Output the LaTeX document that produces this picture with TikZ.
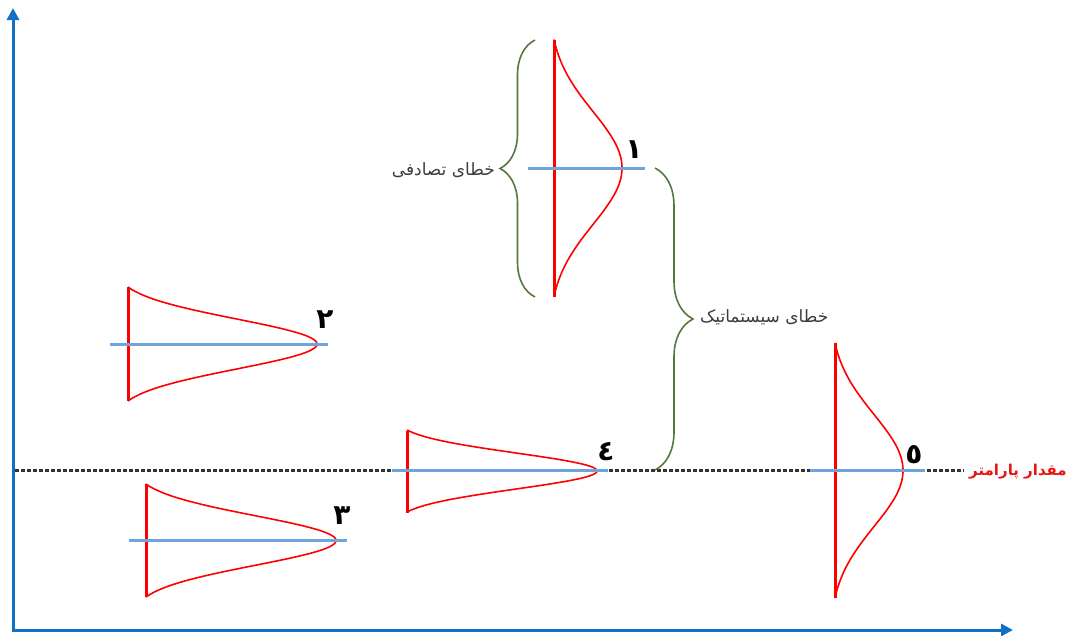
\documentclass[tikz,border=0pt]{standalone}
\usepackage{fontspec}
\usetikzlibrary{arrows.meta,decorations.pathreplacing}
\newfontfamily\farsi[Script=Arabic]{DejaVu Sans}
\TeXXeTstate=1
\definecolor{axisblue}{RGB}{16,112,200}
\definecolor{meanblue}{RGB}{110,165,220}
\definecolor{bracegreen}{RGB}{84,120,60}
\definecolor{labelgray}{RGB}{60,60,60}
\definecolor{pred}{RGB}{235,20,20}
\tikzset{
  axisline/.style={draw=axisblue,line width=3pt,arrows={Triangle[length=12pt,width=12pt]-Triangle[length=12pt,width=12pt]}},
  zeroline/.style={draw=black!80,line width=3pt,dash pattern=on 3.5pt off 2.5pt},
  baseline/.style={draw=red,line width=3pt},
  bell/.style={draw=red,line width=1.6pt},
  meanline/.style={draw=meanblue,line width=3pt},
  errbrace/.style={draw=bracegreen,line width=1.6pt,decorate},
  errlabel/.style={font=\farsi\fontsize{17}{19}\selectfont,text=labelgray,inner sep=0pt},
  numlabel/.style={font=\farsi\bfseries\fontsize{28}{30}\selectfont,text=black,inner sep=0pt},
  declare function={gf(\t)=(exp(-2.6*\t*\t)-exp(-2.6))/(1-exp(-2.6));}
}
\begin{document}
\begin{tikzpicture}[x=1pt,y=-1pt]
\useasboundingbox (0,0) rectangle (1069,635);

% axes
\coordinate (ytop) at (13,8);
\coordinate (origin) at (13,630);
\coordinate (xend) at (1013,630);
\draw[axisline] (ytop) -- (origin) -- (xend);

% true value line and its label
\node[font=\farsi\bfseries\fontsize{15}{17}\selectfont,text=pred,inner sep=0pt] (param) at (1018,472) {\beginR مقدار پارامتر\endR};
\coordinate (zstart) at (15,470);
\draw[zeroline] (zstart) -- ([xshift=-6pt]param.west |- zstart);

% distribution 1 (vertical, upper middle)
\draw[baseline] (554,40) -- (554,297);
\draw[bell] plot[domain=-1:1,samples=121] ({554+68*gf(\x)},{168+128.5*\x});
\coordinate (m1a) at (528,168); \coordinate (m1b) at (645,168);
\draw[meanline] (m1a) -- (m1b);
\node[numlabel] (n1) at (634,150) {١};

% distribution 2
\draw[baseline] (128,287) -- (128,401);
\draw[bell] plot[domain=-1:1,samples=121] ({128+189*gf(\x)},{344+57*\x});
\coordinate (m2a) at (110,344); \coordinate (m2b) at (328,344);
\draw[meanline] (m2a) -- (m2b);
\node[numlabel] (n2) at (325,320) {٢};

% distribution 3
\draw[baseline] (146,484) -- (146,597);
\draw[bell] plot[domain=-1:1,samples=121] ({146+190*gf(\x)},{540.5+56.5*\x});
\coordinate (m3a) at (129,540); \coordinate (m3b) at (347,540);
\draw[meanline] (m3a) -- (m3b);
\node[numlabel] (n3) at (342,516) {٣};

% distribution 4
\draw[baseline] (407,431) -- (407,513);
\draw[bell] plot[domain=-1:1,samples=121] ({407+190*gf(\x)},{471+41*\x});
\coordinate (m4a) at (392,470); \coordinate (m4b) at (608,470);
\draw[meanline] (m4a) -- (m4b);
\node[numlabel] (n4) at (606,452) {٤};

% distribution 5 (vertical, right)
\draw[baseline] (835,343) -- (835,598);
\draw[bell] plot[domain=-1:1,samples=121] ({835+68*gf(\x)},{470.5+127.5*\x});
\coordinate (m5a) at (810,470); \coordinate (m5b) at (925,470);
\draw[meanline] (m5a) -- (m5b);
\node[numlabel] (n5) at (914,455) {٥};

% random error brace
\coordinate (rb1) at (535,297); \coordinate (rb2) at (535,40);
\draw[errbrace,decoration={brace,amplitude=35pt,aspect=0.5}] (rb1) -- (rb2);
\node[errlabel,anchor=east] (rand) at (495,170) {\beginR خطای تصادفی\endR};

% systematic error brace
\coordinate (sb1) at (655,168); \coordinate (sb2) at (655,470);
\draw[errbrace,decoration={brace,amplitude=38pt,aspect=0.5}] (sb1) -- (sb2);
\node[errlabel,anchor=west] (syst) at (700,317) {\beginR خطای سیستماتیک\endR};
\end{tikzpicture}
\end{document}
